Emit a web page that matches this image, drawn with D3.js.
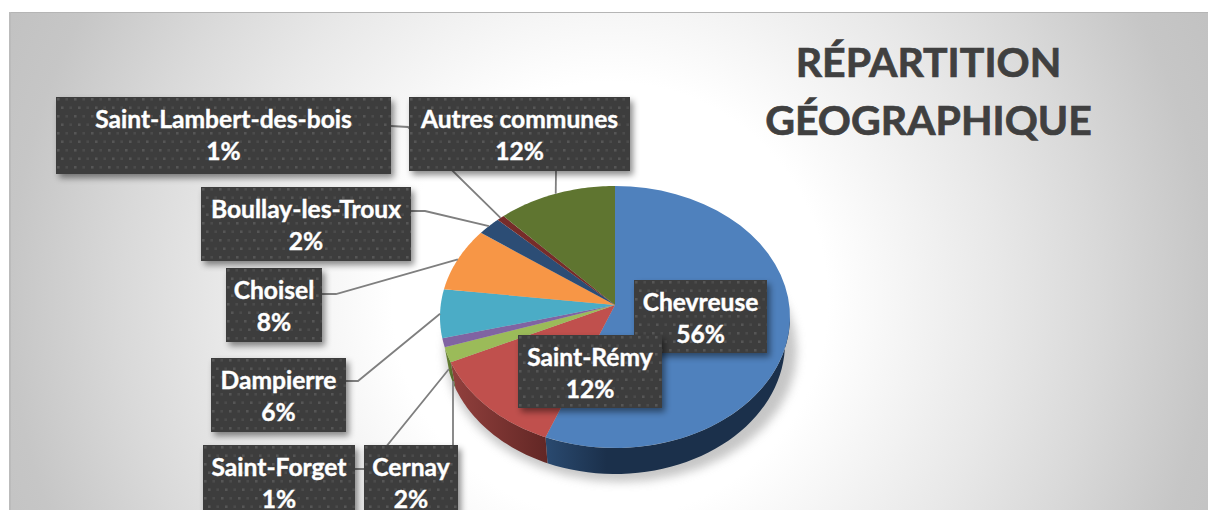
<!DOCTYPE html>
<html lang="fr">
<head>
<meta charset="utf-8">
<title>Répartition géographique</title>
<script src="https://cdn.jsdelivr.net/npm/d3@7"></script>
<style>
  html, body { margin: 0; background: #fff; overflow: hidden; }
  text { font-family: Lato, "Open Sans", sans-serif; font-weight: 700; }
</style>
</head>
<body>
<div class="canvas"></div>
<script>
// ---- DATA --- //
const communes = ["Chevreuse", "Saint-Rémy", "Cernay", "Saint-Forget", "Dampierre", "Choisel", "Boullay-les-Troux", "Saint-Lambert-des-bois", "Autres communes"];
// slice sizes, the printed labels are rounded
const shares = [56.5, 12.9, 1.9, 1.1, 6, 7.7, 2.2, 0.7, 11];
const percentLabels = ["56%", "12%", "2%", "1%", "6%", "8%", "2%", "1%", "12%"];
const titleLines = ["RÉPARTITION", "GÉOGRAPHIQUE"];

// ---- COLOURS --- //
const topColors = ["#4f81bd", "#c0504d", "#9bbb59", "#8064a2", "#4bacc6", "#f79646", "#2c4d75", "#772c2a", "#5f7530"];
const sideColors = [["#1b304b", "#2a4a70"], ["#622725", "#92403d"], ["#4d6128", "#6d8a38"]];
const bgStops = [[0.33, "#ffffff"], [0.59, "#e8e8e8"], [0.74, "#d9d9d9"], [0.91, "#c6c6c6"], [1, "#c2c2c2"]];

// ---- LAYOUT --- //
const width = 1208, height = 510;
const pieGeom = { cx: 615, cy: 317, rx: 175, ry: 131, apexY: 305, depth: 26, bottomRx: 170 };
// label boxes, same order as communes. from/elbow/to are the leader points
const boxes = [
  { x: 634, y: 280, w: 133, h: 73 },
  { x: 518, y: 335, w: 144, h: 73 },
  { x: 364, y: 445, w: 94, h: 74, from: [453, 445], to: [453, 381] },
  { x: 203, y: 445, w: 152, h: 74, from: [355, 469], elbow: [368, 469], to: [449, 369] },
  { x: 211, y: 358, w: 135, h: 74, from: [346, 381], elbow: [358, 381] },
  { x: 226, y: 268, w: 96, h: 74, from: [322, 294], elbow: [336, 294] },
  { x: 201, y: 187, w: 210, h: 74, from: [411, 211], elbow: [425, 211] },
  { x: 56, y: 97, w: 335, h: 77, from: [391, 126], elbow: [408, 127] },
  { x: 409, y: 97, w: 221, h: 74, from: [556, 171] }
];

const svg = d3.select(".canvas").append("svg")
  .attr("width", width)
  .attr("height", height)
  .style("display", "block");

const defs = svg.append("defs");

const bg = defs.append("radialGradient")
  .attr("id", "bg")
  .attr("gradientUnits", "userSpaceOnUse")
  .attr("cx", 610).attr("cy", 300).attr("r", 660);
bgStops.forEach(s => bg.append("stop").attr("offset", s[0]).attr("stop-color", s[1]));

const dots = defs.append("pattern")
  .attr("id", "dots")
  .attr("patternUnits", "userSpaceOnUse")
  .attr("width", 17).attr("height", 17);
dots.append("rect").attr("width", 17).attr("height", 17).attr("fill", "#3e3e3e");
[[1, 1, "#575757"], [9.5, 1, "#4b4b4b"], [5, 9.5, "#575757"], [13.5, 9.5, "#4b4b4b"]].forEach(p => {
  dots.append("rect")
    .attr("x", p[0]).attr("y", p[1])
    .attr("width", 2.5).attr("height", 2.5)
    .attr("fill", p[2]);
});

defs.append("filter").attr("id", "boxShadow")
  .attr("x", "-10%").attr("y", "-15%").attr("width", "125%").attr("height", "140%")
  .append("feDropShadow")
  .attr("dx", 3).attr("dy", 4).attr("stdDeviation", 3)
  .attr("flood-color", "#000").attr("flood-opacity", 0.45);

defs.append("filter").attr("id", "pieShadow")
  .attr("x", "-10%").attr("y", "-10%").attr("width", "120%").attr("height", "120%")
  .append("feGaussianBlur").attr("stdDeviation", 5);

sideColors.forEach((c, i) => {
  const g = defs.append("linearGradient").attr("id", `side${i}`);
  g.append("stop").attr("offset", 0).attr("stop-color", c[1]);
  g.append("stop").attr("offset", i === 0 ? 0.25 : 1).attr("stop-color", c[0]);
});

// ---- BACKGROUND --- //
svg.append("rect")
  .attr("x", 9).attr("y", 12)
  .attr("width", width - 9).attr("height", height - 12)
  .attr("fill", "url(#bg)");
svg.append("line")
  .attr("x1", 9).attr("x2", width).attr("y1", 12.5).attr("y2", 12.5)
  .attr("stroke", "#b5b5b5");
svg.append("line")
  .attr("x1", 10).attr("x2", 10).attr("y1", 12).attr("y2", height)
  .attr("stroke", "#bbbbbb")
  .attr("stroke-width", 2);

// ---- PIE --- //
const arcs = d3.pie().sort(null).value(d => d)(shares);

const rim = a => [pieGeom.cx + pieGeom.rx * Math.sin(a), pieGeom.cy - pieGeom.ry * Math.cos(a)];
const lowRim = a => [pieGeom.cx + pieGeom.bottomRx * Math.sin(a), pieGeom.cy + pieGeom.depth - pieGeom.ry * Math.cos(a)];
const sampleAngles = (a0, a1) => d3.range(0, 41).map(i => a0 + (a1 - a0) * i / 40);
const line = d3.line();

// soft shadow under the cake
const shadowAngles = sampleAngles(0, 2 * Math.PI);
svg.append("path")
  .attr("d", line(shadowAngles.map(a => [pieGeom.cx + 6 + (pieGeom.bottomRx + 6) * Math.sin(a), pieGeom.cy + pieGeom.depth + 8 - pieGeom.ry * Math.cos(a)])) + "Z")
  .attr("fill", "#a0a0a0")
  .attr("opacity", 0.6)
  .attr("filter", "url(#pieShadow)");

// sides, only the front half of the rim shows
const front = [Math.PI / 2, 3 * Math.PI / 2];
const sideGroup = svg.append("g");
arcs.slice(0, 3).forEach((d, i) => {
  const a0 = Math.max(d.startAngle, front[0]);
  const a1 = Math.min(d.endAngle, i === 2 ? front[1] : d.endAngle);
  const angles = sampleAngles(a0, a1);
  const pts = angles.map(rim).concat(angles.slice().reverse().map(lowRim));
  sideGroup.append("path")
    .attr("d", line(pts) + "Z")
    .attr("fill", `url(#side${i})`);
});

// top face
const apex = [pieGeom.cx, pieGeom.apexY];
svg.append("g").selectAll("path")
  .data(arcs)
  .join("path")
  .attr("d", d => line([apex, ...sampleAngles(d.startAngle, d.endAngle).map(rim)]) + "Z")
  .attr("fill", (d, i) => topColors[i]);

// ---- LEADERS --- //
const midRim = d => rim((d.startAngle + d.endAngle) / 2);
svg.append("g").selectAll("path")
  .data(arcs.map((d, i) => ({ arc: d, box: boxes[i] })).filter(d => d.box.from))
  .join("path")
  .attr("d", d => line([d.box.from, ...(d.box.elbow ? [d.box.elbow] : []), d.box.to || midRim(d.arc)]))
  .attr("fill", "none")
  .attr("stroke", "#7f7f7f")
  .attr("stroke-width", 1.8);

// ---- LABELS --- //
const labels = svg.append("g").selectAll("g")
  .data(communes)
  .join("g")
  .attr("transform", (d, i) => `translate(${boxes[i].x},${boxes[i].y})`);

labels.append("rect")
  .attr("width", (d, i) => boxes[i].w)
  .attr("height", (d, i) => boxes[i].h)
  .attr("fill", "url(#dots)")
  .attr("filter", "url(#boxShadow)");

const labelText = labels.append("text")
  .attr("text-anchor", "middle")
  .attr("fill", "#fff")
  .attr("stroke", "#fff")
  .attr("stroke-width", 0.4)
  .attr("font-size", 24.6);
labelText.append("tspan")
  .attr("x", (d, i) => boxes[i].w / 2)
  .attr("y", 31)
  .text(d => d);
labelText.append("tspan")
  .attr("x", (d, i) => boxes[i].w / 2)
  .attr("y", 63)
  .text((d, i) => percentLabels[i]);

// ---- TITLE --- //
svg.append("g").selectAll("text")
  .data(titleLines)
  .join("text")
  .attr("x", 928.5)
  .attr("y", (d, i) => 77 + i * 58)
  .attr("text-anchor", "middle")
  .attr("fill", "#404040")
  .attr("stroke", "#404040")
  .attr("stroke-width", 0.7)
  .attr("font-size", 41)
  .text(d => d);
</script>
</body>
</html>
